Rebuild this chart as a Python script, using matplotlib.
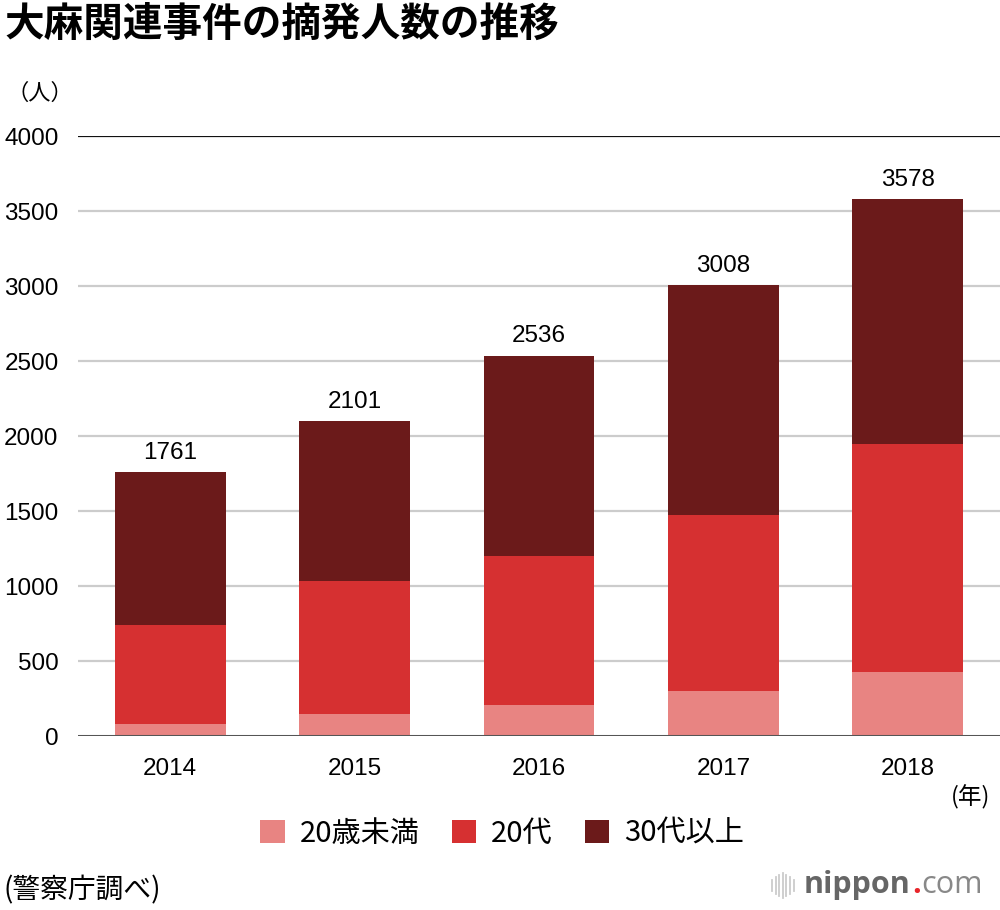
import numpy as np
import matplotlib.pyplot as plt

plt.rcParams['font.family'] = ['Noto Sans CJK JP', 'DejaVu Sans']

years = ['2014', '2015', '2016', '2017', '2018']
under20 = [80, 144, 210, 297, 429]
twenties = [658, 892, 990, 1174, 1520]
totals = [1761, 2101, 2536, 3008, 3578]
over30 = [t - a - b for t, a, b in zip(totals, under20, twenties)]
series_names = ['20歳未満', '20代', '30代以上']
colors = ['#e88482', '#d63031', '#6b1a1a']

fig = plt.figure(figsize=(10, 9.1), dpi=100)
ax = fig.add_axes([0.078, 0.1912, 0.922, 0.6593])

x = np.arange(len(years))
w = 0.6
b1 = ax.bar(x, under20, w, color=colors[0], label=series_names[0], zorder=3)
b2 = ax.bar(x, twenties, w, bottom=under20, color=colors[1], label=series_names[1], zorder=3)
bottom3 = [a + b for a, b in zip(under20, twenties)]
b3 = ax.bar(x, over30, w, bottom=bottom3, color=colors[2], label=series_names[2], zorder=3)

num_font = 'Liberation Sans'
for xi, t in zip(x, totals):
    ax.annotate(str(t), (xi, t), xytext=(0, 6), textcoords='offset points',
                ha='center', va='bottom', fontsize=17.5, family=num_font)

ax.set_xlim(-0.5, 4.5)
ax.set_ylim(0, 4000)
ax.set_yticks(range(0, 4001, 500))
ax.set_yticklabels([str(v) for v in range(0, 4001, 500)], family=num_font, fontsize=17.5)
ax.set_xticks(x)
ax.set_xticklabels(years, family=num_font, fontsize=17.5)
ax.tick_params(axis='both', length=0)
ax.tick_params(axis='y', pad=14)
ax.tick_params(axis='x', pad=16)

for v in range(500, 4000, 500):
    ax.axhline(v, color='#cccccc', lw=1.6, zorder=1)
ax.axhline(4000, color='#111111', lw=1.6, zorder=1)
ax.axhline(0, color='#555555', lw=2.2, zorder=4)
for s in ax.spines.values():
    s.set_visible(False)

fig.text(0.004, 0.973, '大麻関連事件の摘発人数の推移', fontsize=28.5, fontweight='bold',
         ha='left', va='center')
fig.text(0.006, 0.897, '（人）', fontsize=16, ha='left', va='center')
fig.text(0.99, 0.124, '(年)', fontsize=17, ha='right', va='center')

ax.legend(handles=[b1, b2, b3], loc='center', bbox_to_anchor=(0.46, -0.163),
          ncol=3, frameon=False, fontsize=21, handlelength=0.85, handleheight=0.85,
          columnspacing=1.1, handletextpad=0.5)

fig.text(0.004, 0.022, '(警察庁調べ)', fontsize=20, ha='left', va='center')

# nippon.com logo
ly = 0.027
for i, hgt in enumerate([0.012, 0.018, 0.024, 0.028, 0.024, 0.018, 0.012]):
    xx = 0.772 + i * 0.0036
    fig.add_artist(plt.Line2D([xx, xx], [ly - hgt / 2, ly + hgt / 2], color='#cccccc', lw=1.3))
renderer = fig.canvas.get_renderer()
parts = [('nippon', '#666666', 'bold'), ('.', '#e8252a', 'bold'), ('com', '#888888', 'normal')]
px = 0.804
for s, c, fw in parts:
    t = fig.text(px, ly, s, fontsize=22, color=c, fontweight=fw,
                 family='Open Sans', ha='left', va='center')
    bb = t.get_window_extent(renderer)
    px += bb.width / fig.bbox.width + 0.001

fig.savefig('out.png', dpi=100)
